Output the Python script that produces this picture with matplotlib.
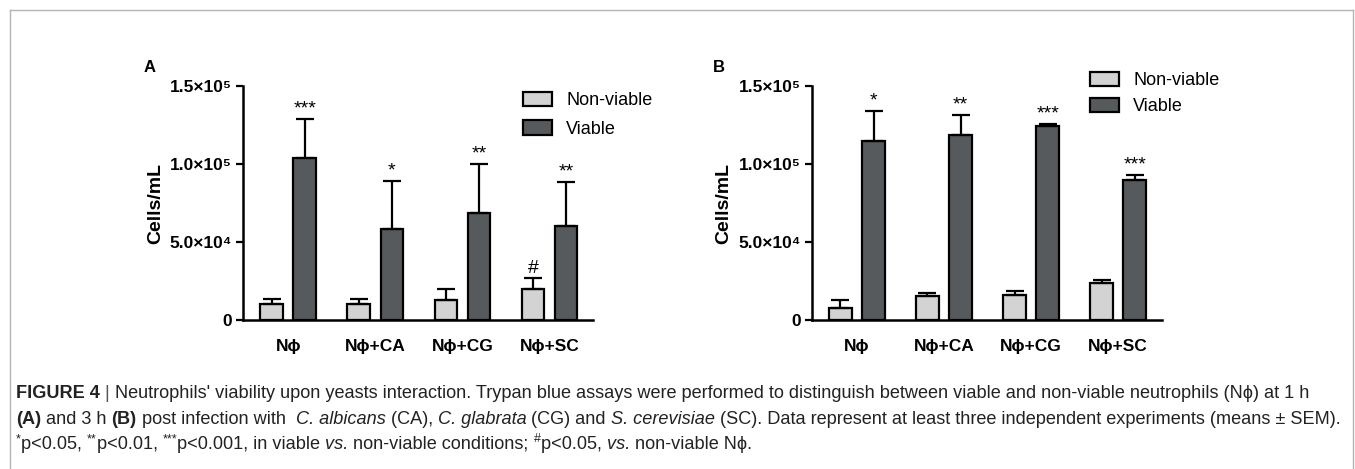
import matplotlib
matplotlib.use("Agg")
import matplotlib.pyplot as plt
import numpy as np
from matplotlib.lines import Line2D

plt.rcParams['font.family'] = ['Liberation Sans', 'DejaVu Sans']

groups = ['Nϕ', 'Nϕ+CA', 'Nϕ+CG', 'Nϕ+SC']
series = ['Non-viable', 'Viable']

# panel A (1 h)
a_nonviable = [10000, 10200, 12600, 20100]
a_nonviable_sem = [3300, 3100, 7100, 6600]
a_viable = [103600, 58100, 68600, 60000]
a_viable_sem = [25100, 30800, 31600, 28500]
a_nonviable_marks = ['', '', '', '#']
a_viable_marks = ['***', '*', '**', '**']

# panel B (3 h)
b_nonviable = [7900, 15400, 16000, 23900]
b_nonviable_sem = [4900, 1700, 2800, 1700]
b_viable = [114900, 118800, 124600, 89700]
b_viable_sem = [18900, 12800, 1000, 3200]
b_nonviable_marks = ['', '', '', '']
b_viable_marks = ['*', '**', '***', '***']

yticks = [0, 50000, 100000, 150000]
yticklabels = ['0', '5.0×10⁴', '1.0×10⁵', '1.5×10⁵']

light = '#d3d3d3'
dark = '#565a5c'
W, H = 1355, 469

fig = plt.figure(figsize=(W / 100, H / 100), dpi=100)


def panel(left, nv, nv_err, v, v_err, nv_marks, v_marks, letter, leg_anchor, leg_space):
    ax = fig.add_axes([left / W, (H - 320) / H, 350 / W, 234 / H])
    x = np.arange(len(groups))
    w, off = 0.26, 0.19
    ekw = dict(ecolor='black', elinewidth=1.6, capsize=6.5, capthick=1.6)
    ax.bar(x - off, nv, w, color=light, edgecolor='black', linewidth=1.6,
           yerr=[np.zeros(4), nv_err], error_kw=ekw, label=series[0], zorder=3)
    ax.bar(x + off, v, w, color=dark, edgecolor='black', linewidth=1.6,
           yerr=[np.zeros(4), v_err], error_kw=ekw, label=series[1], zorder=3)
    for xs, vals, errs, marks in [(x - off, nv, nv_err, nv_marks), (x + off, v, v_err, v_marks)]:
        for xi, val, e, m in zip(xs, vals, errs, marks):
            if m:
                fs = 14 if m == '#' else 14
                ax.annotate(m, (xi, val + e), xytext=(0, 1), textcoords='offset points',
                            ha='center', va='bottom', fontsize=fs)
    ax.set_ylim(0, 150000)
    ax.set_xlim(-0.52, 3.5)
    ax.set_yticks(yticks)
    ax.set_yticklabels(yticklabels, fontsize=12.5, fontweight='bold')
    ax.set_xticks(x)
    ax.set_xticklabels(groups, fontsize=12.5, fontweight='bold')
    ax.tick_params(axis='x', length=0, pad=14)
    ax.tick_params(axis='y', length=5, width=1.6, pad=3)
    ax.set_ylabel('Cells/mL', fontsize=14, fontweight='bold', labelpad=4)
    for s in ['top', 'right']:
        ax.spines[s].set_visible(False)
    for s in ['left', 'bottom']:
        ax.spines[s].set_linewidth(1.8)
    ax.legend(loc='upper left', bbox_to_anchor=leg_anchor, bbox_transform=fig.transFigure,
              frameon=False, fontsize=13, handlelength=1.6, handleheight=0.85,
              handletextpad=0.8, labelspacing=leg_space, borderaxespad=0, borderpad=0)
    fig.text((left - 93) / W, 1 - 67 / H, letter, fontsize=12, fontweight='bold',
             ha='center', va='center')
    return ax


panel(243, a_nonviable, a_nonviable_sem, a_viable, a_viable_sem,
      a_nonviable_marks, a_viable_marks, 'A', (523 / W, 1 - 92 / H), 0.6)
panel(811.7, b_nonviable, b_nonviable_sem, b_viable, b_viable_sem,
      b_nonviable_marks, b_viable_marks, 'B', (1090 / W, 1 - 72 / H), 0.45)

# frame around the figure
fc = '#b4b4b4'
fig.add_artist(Line2D([10 / W, 10 / W], [0, 1 - 10 / H], color=fc, lw=1, transform=fig.transFigure))
fig.add_artist(Line2D([10 / W, 1353 / W], [1 - 10 / H, 1 - 10 / H], color=fc, lw=1, transform=fig.transFigure))
fig.add_artist(Line2D([1353 / W, 1353 / W], [0, 1 - 10 / H], color=fc, lw=1, transform=fig.transFigure))

# caption, written in runs of differing style
cap_font = ['Liberation Sans Narrow', 'Liberation Sans', 'DejaVu Sans']
caption = [
    [('FIGURE 4', 'bold', 'normal', 0), (' | ', 'light', 'normal', 0),
     ("Neutrophils' viability upon yeasts interaction. Trypan blue assays were performed to distinguish between viable and non-viable neutrophils (Nϕ) at 1 h", 'normal', 'normal', 0)],
    [('(A)', 'bold', 'normal', 0), (' and 3 h ', 'normal', 'normal', 0), ('(B)', 'bold', 'normal', 0),
     (' post infection with  ', 'normal', 'normal', 0), ('C. albicans', 'normal', 'italic', 0),
     (' (CA), ', 'normal', 'normal', 0), ('C. glabrata', 'normal', 'italic', 0),
     (' (CG) and ', 'normal', 'normal', 0), ('S. cerevisiae', 'normal', 'italic', 0),
     (' (SC). Data represent at least three independent experiments (means ± SEM).', 'normal', 'normal', 0)],
    [('*', 'normal', 'normal', 1), ('p<0.05, ', 'normal', 'normal', 0), ('**', 'normal', 'normal', 1),
     ('p<0.01, ', 'normal', 'normal', 0), ('***', 'normal', 'normal', 1),
     ('p<0.001, in viable ', 'normal', 'normal', 0), ('vs.', 'normal', 'italic', 0),
     (' non-viable conditions; ', 'normal', 'normal', 0), ('#', 'normal', 'normal', 1),
     ('p<0.05, ', 'normal', 'normal', 0), ('vs.', 'normal', 'italic', 0),
     (' non-viable Nϕ.', 'normal', 'normal', 0)],
]
fig.canvas.draw()
renderer = fig.canvas.get_renderer()
line_y = [393, 419, 444]
for runs, ly in zip(caption, line_y):
    xpos = 16
    for txt, weight, style, sup in runs:
        fs = 9 if sup else 13.1
        yy = ly - 5 if sup else ly
        color = '#555555' if weight == 'light' else '#222222'
        t = fig.text(xpos / W, 1 - yy / H, txt, fontsize=fs, fontweight=weight if weight != 'light' else 'normal',
                     fontstyle=style, family=cap_font, color=color, ha='left', va='center')
        bb = t.get_window_extent(renderer)
        xpos += bb.width

fig.savefig('out.png', dpi=100)
